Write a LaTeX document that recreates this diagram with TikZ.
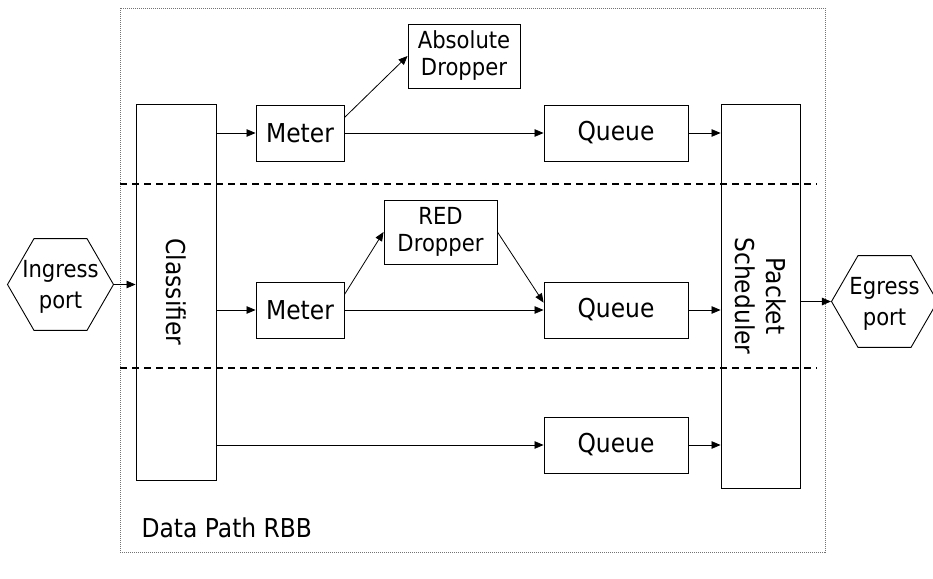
\documentclass[tikz,border=0pt]{standalone}
\usepackage{fontspec}
\setmainfont{DejaVu Sans}[FakeStretch=0.9]
\usetikzlibrary{arrows.meta,shapes.geometric}

\tikzset{
  big/.style={font=\fontsize{26}{31}\selectfont},
  small/.style={font=\fontsize{23.5}{27}\selectfont},
  block/.style={draw, line width=0.9pt, inner sep=0pt, align=center},
  port/.style={draw, line width=0.9pt, regular polygon, regular polygon sides=6,
    minimum size=106pt, inner sep=0pt},
  portname/.style={align=center, inner sep=0pt, font=\fontsize{23.5}{31}\selectfont},
  flow/.style={line width=0.8pt, -{Triangle[length=9pt,width=7.5pt]}},
  lane/.style={line width=1.4pt, dash pattern=on 7pt off 5pt},
  frame/.style={draw=black!55, line width=0.8pt, dash pattern=on 1pt off 1pt}
}

\begin{document}
\begin{tikzpicture}[x=1pt,y=-1pt]
\useasboundingbox (0,0) rectangle (933,578);

% enclosing data path
\node[frame, minimum width=705pt, minimum height=544pt] (rbb) at (472.5,280) {};
\node[big, anchor=base west] (rbbname) at (138,537) {Data Path RBB};

% lane separators
\coordinate (s1a) at (120,184);
\coordinate (s1b) at (817,184);
\coordinate (s2a) at (120,368);
\coordinate (s2b) at (817,368);
\draw[lane] (s1a) -- (s1b);
\draw[lane] (s2a) -- (s2b);

% classifier and scheduler
\node[block, minimum width=80pt, minimum height=376pt] (cls) at (176,292) {};
\node[big, rotate=-90] (clstext) at (cls) {Classifier};
\node[block, minimum width=79pt, minimum height=384pt] (sch) at (760.5,296) {};
\node[big, rotate=-90, align=center] (schtext) at (sch) {Packet\\Scheduler};

% ports
\node[port] (ing) at (60.5,284.5) {};
\node[portname] (ingtext) at ([yshift=-2pt]ing.center) {Ingress\\port};
\node[port] (eg) at (884.5,301.5) {};
\node[portname] (egtext) at ([yshift=-2pt]eg.center) {Egress\\port};

% top lane
\node[block, big, minimum width=88pt, minimum height=56pt] (mt) at (300,133) {Meter};
\node[block, big, minimum width=144pt, minimum height=56pt] (qt) at (616,133) {Queue};
\node[block, small, minimum width=112pt, minimum height=64pt] (ad) at (464,56) {Absolute\\Dropper};

% middle lane
\node[block, big, minimum width=88pt, minimum height=56pt] (mm) at (300,310) {Meter};
\node[block, big, minimum width=144pt, minimum height=56pt] (qm) at (616,310) {Queue};
\node[block, small, minimum width=113pt, minimum height=64pt] (rd) at (440.5,232) {RED\\Dropper};

% bottom lane
\node[block, big, minimum width=144pt, minimum height=56pt] (qb) at (616,445) {Queue};

% connections
\draw[flow] (ing.corner 6) -- (ing.corner 6 -| cls.west);
\draw[flow] (cls.east |- mt.west) -- (mt.west);
\draw[flow] (mt.east) -- (qt.west);
\draw[flow] ([yshift=-13pt]mt.north east) -- (ad.west);
\draw[flow] (qt.east) -- (qt.east -| sch.west);

\draw[flow] (cls.east |- mm.west) -- (mm.west);
\draw[flow] (mm.east) -- (qm.west);
\draw[flow] ([yshift=-13pt]mm.north east) -- (rd.west);
\draw[flow] (rd.east) -- ([yshift=-21pt]qm.north west);
\draw[flow] (qm.east) -- (qm.east -| sch.west);

\draw[flow] (cls.east |- qb.west) -- (qb.west);
\draw[flow] (qb.east) -- (qb.east -| sch.west);

\draw[flow] (sch.east |- eg.corner 3) -- (eg.corner 3);
\end{tikzpicture}
\end{document}
